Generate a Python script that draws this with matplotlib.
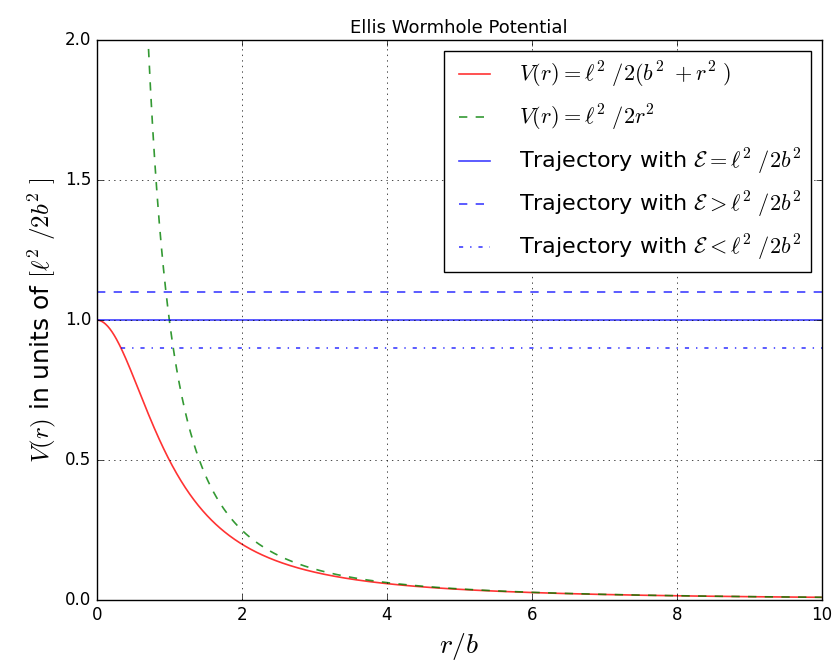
import numpy as np
import matplotlib
matplotlib.use('Agg')
from matplotlib import pyplot as plt

plt.style.use('classic')
plt.rcParams['mathtext.fontset'] = 'cm'
plt.rcParams['savefig.facecolor'] = 'white'
plt.rcParams['figure.facecolor'] = 'white'

# energy levels in units of l^2/2b^2
levels = [1.0, 1.1, 0.9]
level_styles = ['-', '--', '-.']
level_labels = [r'Trajectory with $\mathcal{E} = \ell^2\ /2b^2$',
                r'Trajectory with $\mathcal{E} > \ell^2\ /2b^2$',
                r'Trajectory with $\mathcal{E} < \ell^2\ /2b^2$']

r = np.linspace(0, 10, 1000)
r_pos = np.linspace(0.01, 10, 1000)
ellis = 1.0 / (1.0 + r**2)
newton = 1.0 / r_pos**2

fig = plt.figure(figsize=(8.35, 6.69), dpi=100)
ax = fig.add_axes([0.116, 0.103, 0.868, 0.837])

ax.plot(r, ellis, 'r-', alpha=0.8, lw=1.2, label=r'$V(r) = \ell^2\ /2(b^2\ + r^2\ )$')
ax.plot(r_pos, newton, 'g--', alpha=0.8, lw=1.2, label=r'$V(r) = \ell^2\ /2r^2$')
for lev, ls, lab in zip(levels, level_styles, level_labels):
    # trajectory only exists where the energy is above the potential
    start = np.sqrt(max(1.0 / lev - 1.0, 0.0))
    ax.plot([start, 10], [lev, lev], color='b', linestyle=ls, alpha=0.75, lw=1.2, label=lab)

ax.set_xlim(0, 10)
ax.set_ylim(0, 2)
ax.set_xticks([0, 2, 4, 6, 8, 10])
ax.set_yticks([0.0, 0.5, 1.0, 1.5, 2.0])
ax.tick_params(labelsize=12)
ax.grid(True)
ax.set_title('Ellis Wormhole Potential', fontsize=13)
ax.set_xlabel(r'$r/b$', fontsize=20)
ax.set_ylabel(r'$V(r)$ in units of $[\ell^2\ /2b^2\ ]$', fontsize=18)
ax.legend(loc='upper right', fontsize=16, handlelength=2.0, labelspacing=0.6,
          handletextpad=1.0)

fig.savefig('out.png', dpi=100)
